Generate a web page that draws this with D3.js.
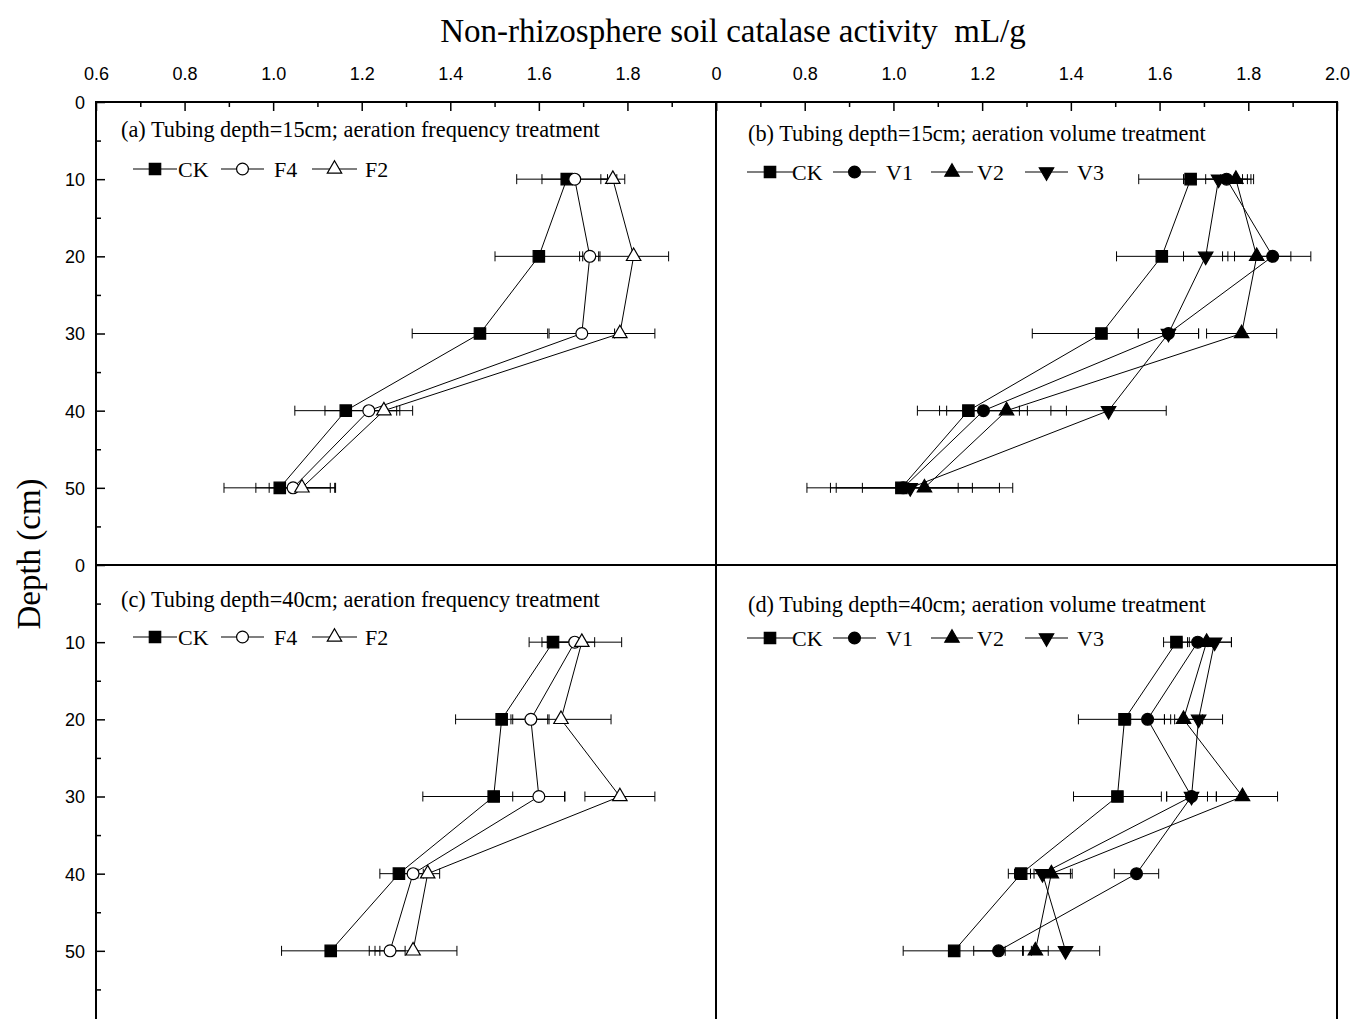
<!DOCTYPE html>
<html>
<head>
<meta charset="utf-8">
<script src="https://cdn.jsdelivr.net/npm/d3@7"></script>
<style>
	body { margin: 0; background: #fff; }
	svg { display: block; }
	.tick text { font-family: 'Liberation Sans', Arial, sans-serif; font-size: 18px; fill: #000; }
	.serif { font-family: 'Liberation Serif', 'Times New Roman', serif; fill: #000; white-space: pre; }
</style>
</head>
<body>
<svg width="1353" height="1019"></svg>
<script>
'use strict'

// Data
const depths = [10, 20, 30, 40, 50]
const xMajor = [0.6, 0.8, 1.0, 1.2, 1.4, 1.6, 1.8, 2.0]
const xMinor = [0.7, 0.9, 1.1, 1.3, 1.5, 1.7, 1.9]
const yMajor = [0, 10, 20, 30, 40, 50]
const yMinor = [5, 15, 25, 35, 45, 55]
const leftTickLabels = ['0.6', '0.8', '1.0', '1.2', '1.4', '1.6', '1.8', '']
const rightTickLabels = ['0', '0.8', '1.0', '1.2', '1.4', '1.6', '1.8', '2.0']

// (a) tubing 15cm, frequency
const aCK = [1.663, 1.600, 1.467, 1.164, 1.015]
const aCKerr = [0.113, 0.099, 0.153, 0.115, 0.126]
const aF4 = [1.681, 1.715, 1.697, 1.216, 1.045]
const aF4err = [0.074, 0.023, 0.074, 0.099, 0.084]
const aF2 = [1.767, 1.814, 1.783, 1.250, 1.065]
const aF2err = [0.027, 0.079, 0.079, 0.036, 0.074]

// (b) tubing 15cm, volume
const bCK = [1.670, 1.605, 1.469, 1.169, 1.018]
const bCKerr = [0.117, 0.102, 0.156, 0.115, 0.160]
const bV1 = [1.751, 1.855, 1.620, 1.203, 1.022]
const bV1err = [0.047, 0.086, 0.068, 0.099, 0.217]
const bV2 = [1.772, 1.819, 1.785, 1.255, 1.070]
const bV2err = [0.034, 0.077, 0.079, 0.135, 0.199]
const bV3 = [1.733, 1.704, 1.620, 1.485, 1.038]
const bV3err = [0.079, 0.050, 0.068, 0.130, 0.108]

// (c) tubing 40cm, frequency
const cCK = [1.632, 1.516, 1.498, 1.284, 1.130]
const cCKerr = [0.054, 0.104, 0.160, 0.043, 0.111]
const cF4 = [1.681, 1.582, 1.600, 1.316, 1.264]
const cF4err = [0.045, 0.041, 0.059, 0.023, 0.034]
const cF2 = [1.697, 1.650, 1.783, 1.349, 1.316]
const cF2err = [0.090, 0.113, 0.079, 0.027, 0.099]

// (d) tubing 40cm, volume
const dCK = [1.638, 1.521, 1.505, 1.288, 1.137]
const dCKerr = [0.029, 0.104, 0.099, 0.029, 0.115]
const dV1 = [1.686, 1.573, 1.672, 1.548, 1.237]
const dV1err = [0.023, 0.038, 0.056, 0.050, 0.056]
const dV2 = [1.706, 1.654, 1.787, 1.356, 1.320]
const dV2err = [0.056, 0.043, 0.079, 0.047, 0.029]
const dV3 = [1.724, 1.688, 1.672, 1.336, 1.388]
const dV3err = [0.038, 0.054, 0.056, 0.063, 0.077]

const svg = d3.select('svg')

// Layout
const X0 = 96, XM = 716, X1 = 1337
const Y0 = 102, YM = 565, Y1 = 1028

// marker styles
const MARK = {
	square: { type: d3.symbolSquare, size: 130, fill: '#000', rot: 0 },
	circleOpen: { type: d3.symbolCircle, size: 110, fill: '#fff', rot: 0 },
	triOpen: { type: d3.symbolTriangle, size: 90, fill: '#fff', rot: 0 },
	circle: { type: d3.symbolCircle, size: 110, fill: '#000', rot: 0 },
	tri: { type: d3.symbolTriangle, size: 90, fill: '#000', rot: 0 },
	triDown: { type: d3.symbolTriangle, size: 90, fill: '#000', rot: 180 },
}

const freqLegend = [
	{ l1: 37, l2: 81, t: 82 },
	{ l1: 125, l2: 168, t: 178 },
	{ l1: 216, l2: 261, t: 269 },
]
const volLegend = [
	{ l1: 31, l2: 77, t: 76 },
	{ l1: 117, l2: 160, t: 170 },
	{ l1: 215, l2: 257, t: 261 },
	{ l1: 309, l2: 352, t: 361 },
]

const panels = [
	{
		x: [X0, XM], y: [Y0, YM], capX: 25, capY: 35, legY: 67, legend: freqLegend,
		caption: '(a) Tubing depth=15cm; aeration frequency treatment',
		series: [
			{ name: 'CK', v: aCK, e: aCKerr, m: 'square' },
			{ name: 'F4', v: aF4, e: aF4err, m: 'circleOpen' },
			{ name: 'F2', v: aF2, e: aF2err, m: 'triOpen' },
		],
	},
	{
		x: [XM, X1], y: [Y0, YM], capX: 32, capY: 39, legY: 70, legend: volLegend,
		caption: '(b) Tubing depth=15cm; aeration volume treatment',
		series: [
			{ name: 'CK', v: bCK, e: bCKerr, m: 'square' },
			{ name: 'V1', v: bV1, e: bV1err, m: 'circle' },
			{ name: 'V2', v: bV2, e: bV2err, m: 'tri' },
			{ name: 'V3', v: bV3, e: bV3err, m: 'triDown' },
		],
	},
	{
		x: [X0, XM], y: [YM, Y1], capX: 25, capY: 42, legY: 72, legend: freqLegend,
		caption: '(c) Tubing depth=40cm; aeration frequency treatment',
		series: [
			{ name: 'CK', v: cCK, e: cCKerr, m: 'square' },
			{ name: 'F4', v: cF4, e: cF4err, m: 'circleOpen' },
			{ name: 'F2', v: cF2, e: cF2err, m: 'triOpen' },
		],
	},
	{
		x: [XM, X1], y: [YM, Y1], capX: 32, capY: 47, legY: 73, legend: volLegend,
		caption: '(d) Tubing depth=40cm; aeration volume treatment',
		series: [
			{ name: 'CK', v: dCK, e: dCKerr, m: 'square' },
			{ name: 'V1', v: dV1, e: dV1err, m: 'circle' },
			{ name: 'V2', v: dV2, e: dV2err, m: 'tri' },
			{ name: 'V3', v: dV3, e: dV3err, m: 'triDown' },
		],
	},
]

function drawMarker(g, m, cx, cy) {
	const s = MARK[m]
	g.append('path')
		.attr('d', d3.symbol().type(s.type).size(s.size)())
		.attr('transform', `translate(${cx},${cy}) rotate(${s.rot})`)
		.attr('fill', s.fill).attr('stroke', '#000').attr('stroke-width', 1.2)
}

panels.forEach((p, pi) => {
	const x = d3.scaleLinear().domain([0.6, 2.0]).range(p.x)
	const y = d3.scaleLinear().domain([0, 60]).range(p.y)
	const g = svg.append('g')

	// Top axis (upper panels only)
	if (pi < 2) {
		const labels = pi === 0 ? leftTickLabels : rightTickLabels
		const ax = g.append('g').attr('transform', `translate(0,${Y0})`)
			.call(d3.axisTop(x).tickValues(xMajor).tickSize(-9).tickPadding(22)
				.tickFormat((d, i) => labels[i]))
		ax.select('.domain').remove()
		ax.selectAll('line').attr('stroke-width', 1.5)
		const mx = g.append('g').attr('transform', `translate(0,${Y0})`)
			.call(d3.axisTop(x).tickValues(xMinor).tickSize(-5).tickFormat(''))
		mx.select('.domain').remove()
		mx.selectAll('line').attr('stroke-width', 1.5)
	}

	// Left axis (left panels only)
	if (pi % 2 === 0) {
		const ay = g.append('g').attr('transform', `translate(${X0},0)`)
			.call(d3.axisLeft(y).tickValues(yMajor).tickSize(-9).tickPadding(11))
		ay.select('.domain').remove()
		ay.selectAll('line').attr('stroke-width', 1.5)
		ay.selectAll('text').attr('dy', '0.36em')
		const my = g.append('g').attr('transform', `translate(${X0},0)`)
			.call(d3.axisLeft(y).tickValues(yMinor).tickSize(-5).tickFormat(''))
		my.select('.domain').remove()
		my.selectAll('line').attr('stroke-width', 1.5)
	}

	// Caption
	g.append('text').attr('class', 'serif')
		.attr('x', p.x[0] + p.capX).attr('y', p.y[0] + p.capY)
		.attr('font-size', 22.3)
		.text(p.caption)

	// Error bars
	p.series.forEach((s) => {
		s.v.forEach((v, i) => {
			const cy = y(depths[i])
			const xa = x(v - s.e[i]), xb = x(v + s.e[i])
			g.append('line').attr('x1', xa).attr('x2', xb).attr('y1', cy).attr('y2', cy)
				.attr('stroke', '#000').attr('stroke-width', 1)
			;[xa, xb].forEach((xx) => {
				g.append('line').attr('x1', xx).attr('x2', xx).attr('y1', cy - 5).attr('y2', cy + 5)
					.attr('stroke', '#000').attr('stroke-width', 1)
			})
		})
	})

	// Lines
	const line = d3.line().x((d) => x(d[0])).y((d) => y(d[1]))
	p.series.forEach((s) => {
		g.append('path')
			.datum(s.v.map((v, i) => [v, depths[i]]))
			.attr('d', line)
			.attr('fill', 'none').attr('stroke', '#000').attr('stroke-width', 1)
	})

	// Markers
	p.series.forEach((s) => {
		s.v.forEach((v, i) => drawMarker(g, s.m, x(v), y(depths[i])))
	})

	// Legend
	const ly = p.y[0] + p.legY
	p.series.forEach((s, i) => {
		const L = p.legend[i]
		g.append('line').attr('x1', p.x[0] + L.l1).attr('x2', p.x[0] + L.l2)
			.attr('y1', ly).attr('y2', ly).attr('stroke', '#000').attr('stroke-width', 1.2)
		drawMarker(g, s.m, p.x[0] + (L.l1 + L.l2) / 2, ly)
		g.append('text').attr('class', 'serif')
			.attr('x', p.x[0] + L.t).attr('y', ly + 7.5)
			.attr('font-size', 22)
			.text(s.name)
	})
})

// Frame
const frame = svg.append('g').attr('fill', 'none').attr('stroke', '#000').attr('stroke-width', 2)
frame.append('rect').attr('x', X0).attr('y', Y0).attr('width', X1 - X0).attr('height', Y1 - Y0)
frame.append('line').attr('x1', XM).attr('x2', XM).attr('y1', Y0).attr('y2', Y1)
frame.append('line').attr('x1', X0).attr('x2', X1).attr('y1', YM).attr('y2', YM)

// Titles
svg.append('text').attr('class', 'serif')
	.attr('x', 733).attr('y', 42).attr('text-anchor', 'middle')
	.attr('font-size', 33)
	.text('Non-rhizosphere soil catalase activity  mL/g')
svg.append('text').attr('class', 'serif')
	.attr('transform', 'translate(40,554) rotate(-90)')
	.attr('text-anchor', 'middle')
	.attr('font-size', 33)
	.text('Depth (cm)')
</script>
</body>
</html>
